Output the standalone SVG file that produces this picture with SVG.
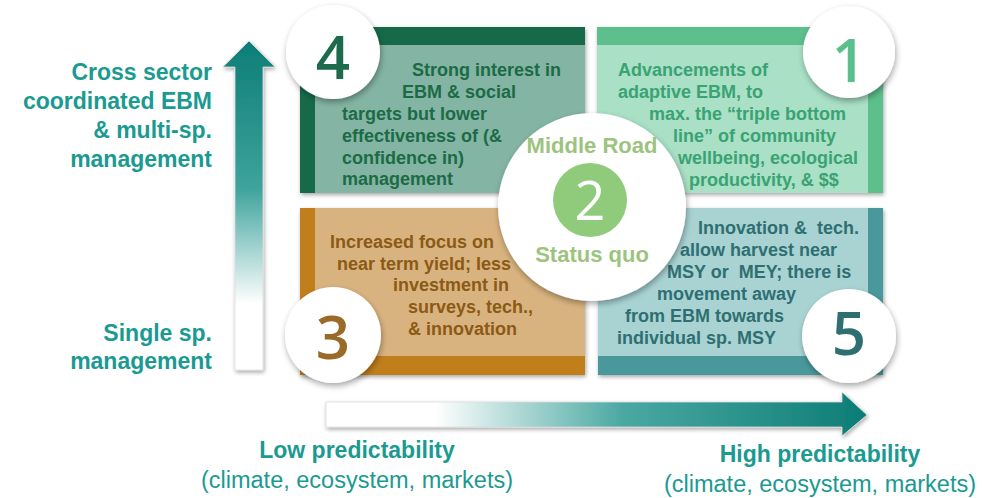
<svg xmlns="http://www.w3.org/2000/svg" width="982" height="498" viewBox="0 0 982 498">
<defs>
<linearGradient id="gv" x1="0" y1="40" x2="0" y2="370" gradientUnits="userSpaceOnUse">
<stop offset="0" stop-color="#0c7d76"/>
<stop offset="0.45" stop-color="#3ea39c"/>
<stop offset="0.8" stop-color="#ffffff"/>
<stop offset="1" stop-color="#ffffff"/>
</linearGradient>
<linearGradient id="gh" x1="326" y1="0" x2="867" y2="0" gradientUnits="userSpaceOnUse">
<stop offset="0" stop-color="#ffffff"/>
<stop offset="0.2" stop-color="#ffffff"/>
<stop offset="0.55" stop-color="#4aa8a1"/>
<stop offset="1" stop-color="#0c7d76"/>
</linearGradient>
<filter id="sh" x="-10%" y="-10%" width="125%" height="125%">
<feGaussianBlur in="SourceAlpha" stdDeviation="2"/>
<feOffset dx="1" dy="2" result="o"/>
<feComponentTransfer><feFuncA type="linear" slope="0.35"/></feComponentTransfer>
<feMerge><feMergeNode/><feMergeNode in="SourceGraphic"/></feMerge>
</filter>
<filter id="shc" x="-20%" y="-20%" width="140%" height="140%">
<feGaussianBlur in="SourceAlpha" stdDeviation="3"/>
<feOffset dx="1" dy="3" result="o"/>
<feComponentTransfer><feFuncA type="linear" slope="0.35"/></feComponentTransfer>
<feMerge><feMergeNode/><feMergeNode in="SourceGraphic"/></feMerge>
</filter>
</defs>
<style>
text{font-family:"Liberation Sans",Arial,sans-serif;}
.bt{font-size:18px;font-weight:bold;}
.ax{font-size:23px;font-weight:bold;fill:#1a9a91;}
.axs{font-size:23.5px;fill:#1a9a91;}
.num{font-size:60px;font-weight:600;text-anchor:middle;font-family:"Open Sans","Liberation Sans",sans-serif;}
.circ{fill:#ffffff;filter:url(#shc);}
.mid{font-size:22px;font-weight:bold;fill:#9cc47e;text-anchor:middle;}
</style>
<rect width="982" height="498" fill="#ffffff"/>

<g id="axis-vertical">
<path d="M235,370 L235,67 L223,67 L249,41 L275,67 L263,67 L263,370 Z" fill="url(#gv)" stroke="#dcdcdc" stroke-width="0.8" filter="url(#sh)"/>
<g class="ax" text-anchor="end">
<text x="212" y="80">Cross sector</text>
<text x="212" y="109">coordinated EBM</text>
<text x="212" y="138">&amp; multi-sp.</text>
<text x="212" y="167">management</text>
<text x="212" y="341">Single sp.</text>
<text x="212" y="369">management</text>
</g>
</g>

<g id="axis-horizontal">
<path d="M326,402 L842,402 L842,392 L867,415 L842,436 L842,427 L326,427 Z" fill="url(#gh)" stroke="#dcdcdc" stroke-width="0.8" filter="url(#sh)"/>
<text class="ax" x="357" y="458" text-anchor="middle">Low predictability</text>
<text class="axs" x="357" y="488" text-anchor="middle">(climate, ecosystem, markets)</text>
<text class="ax" x="820" y="462" text-anchor="middle">High predictability</text>
<text class="axs" x="820" y="492" text-anchor="middle">(climate, ecosystem, markets)</text>
</g>

<g id="box4">
<g filter="url(#sh)">
<rect x="300" y="27" width="285" height="166" fill="#84b4a3"/>
<rect x="300" y="27" width="285" height="18" fill="#186b4a"/>
<rect x="300" y="27" width="15" height="166" fill="#186b4a"/>
</g>
<g class="bt" fill="#1c6b47">
<text x="412" y="76">Strong interest in</text>
<text x="402" y="98">EBM &amp; social</text>
<text x="342" y="120">targets but lower</text>
<text x="342" y="142">effectiveness of (&amp;</text>
<text x="342" y="164">confidence in)</text>
<text x="342" y="185">management</text>
</g>
</g>

<g id="box1">
<g filter="url(#sh)">
<rect x="597" y="27" width="286" height="166" fill="#a9e0c6"/>
<rect x="597" y="27" width="286" height="18" fill="#5dbf8c"/>
<rect x="868" y="27" width="15" height="166" fill="#5dbf8c"/>
</g>
<g class="bt" fill="#3aa373">
<text x="618" y="76">Advancements of</text>
<text x="618" y="98">adaptive EBM, to</text>
<text x="649" y="120">max. the “triple bottom</text>
<text x="673" y="142">line” of community</text>
<text x="678" y="164">wellbeing, ecological</text>
<text x="689" y="186">productivity, &amp; $$</text>
</g>
</g>

<g id="box3">
<g filter="url(#sh)">
<rect x="300" y="208" width="285" height="167" fill="#d9b37f"/>
<rect x="300" y="208" width="15" height="167" fill="#c17f1f"/>
<rect x="300" y="356" width="285" height="19" fill="#c17f1f"/>
</g>
<g class="bt" fill="#8a5a16">
<text x="330" y="248">Increased focus on</text>
<text x="337" y="270">near term yield; less</text>
<text x="393" y="291">investment in</text>
<text x="408" y="313">surveys, tech.,</text>
<text x="408" y="335">&amp; innovation</text>
</g>
</g>

<g id="box5">
<g filter="url(#sh)">
<rect x="598" y="208" width="285" height="167" fill="#a9d3d3"/>
<rect x="868" y="208" width="15" height="167" fill="#4a999c"/>
<rect x="598" y="356" width="285" height="19" fill="#4a999c"/>
</g>
<g class="bt" fill="#2e6f72">
<text x="698" y="234" xml:space="preserve">Innovation &amp;  tech.</text>
<text x="680" y="256">allow harvest near</text>
<text x="667" y="278" xml:space="preserve">MSY or  MEY; there is</text>
<text x="657" y="300">movement away</text>
<text x="625" y="322">from EBM towards</text>
<text x="617" y="344">individual sp. MSY</text>
</g>
</g>

<g id="circle4">
<circle class="circ" cx="333" cy="52" r="47"/>
<text class="num" x="333" y="79" fill="#1d6b4b">4</text>
</g>
<g id="circle1">
<circle class="circ" cx="849" cy="52" r="46"/>
<text class="num" x="849" y="82" fill="#5bbf8c">1</text>
</g>
<g id="circle3">
<circle class="circ" cx="333" cy="335" r="48"/>
<text class="num" x="333" y="359" fill="#9a6a28">3</text>
</g>
<g id="circle5">
<circle class="circ" cx="849" cy="336" r="47"/>
<text class="num" x="849" y="355" fill="#2e6f72">5</text>
</g>

<g id="middle">
<circle class="circ" cx="592" cy="207" r="94"/>
<circle cx="590" cy="200" r="37" fill="#8fcb7a"/>
<text x="590" y="220" text-anchor="middle" font-size="54" fill="#ffffff" style="font-family:'Open Sans','Liberation Sans',sans-serif">2</text>
<text class="mid" x="592" y="153">Middle Road</text>
<text class="mid" x="592" y="262">Status quo</text>
</g>
</svg>
